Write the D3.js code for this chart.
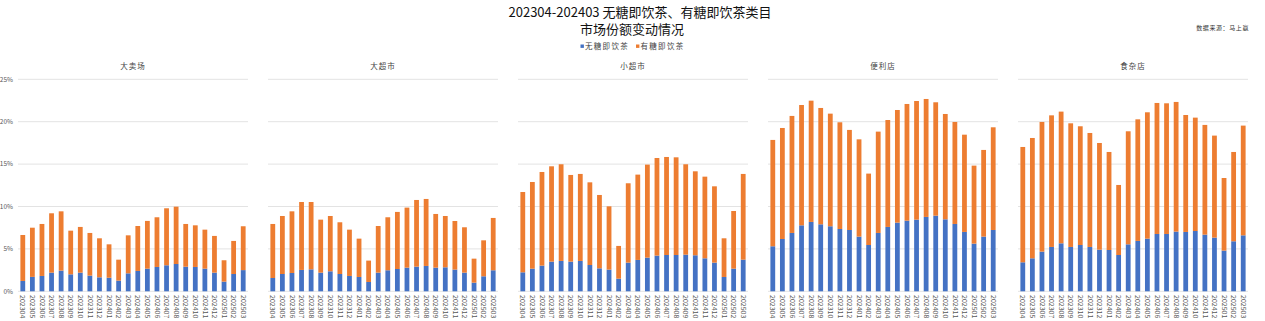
<!DOCTYPE html>
<html><head><meta charset="utf-8">
<script src="https://cdn.jsdelivr.net/npm/d3@7"></script>
<style>
body{margin:0;background:#fff;}
svg{display:block;font-family:"Noto Sans CJK SC","Noto Sans",sans-serif;}
</style></head>
<body>
<svg id="chart" width="1265" height="321"></svg>
<script>
const months = ["202304","202305","202306","202307","202308","202309","202310","202311","202312","202401","202402","202403","202404","202405","202406","202407","202408","202409","202410","202411","202412","202501","202502","202503"];
const channels = ["大卖场","大超市","小超市","便利店","食杂店"];
const seriesNames = ["无糖即饮茶","有糖即饮茶"];
const yTicks = [0,5,10,15,20,25];

// 无糖即饮茶 share (%)
const sugarFree_大卖场 = [1.22,1.70,1.81,2.20,2.44,2.00,2.20,1.85,1.65,1.60,1.26,2.12,2.40,2.67,2.87,3.07,3.22,2.90,2.87,2.67,2.20,1.14,2.04,2.50];
const sugarFree_大超市 = [1.57,2.04,2.16,2.52,2.59,2.20,2.36,2.04,1.81,1.69,1.10,2.20,2.48,2.63,2.79,2.91,2.99,2.79,2.83,2.56,2.20,1.02,1.77,2.48];
const sugarFree_小超市 = [2.24,2.67,3.03,3.50,3.58,3.50,3.58,3.10,2.71,2.56,1.49,3.38,3.70,3.97,4.21,4.28,4.28,4.32,4.25,3.89,3.38,1.69,2.67,3.73];
const sugarFree_便利店 = [5.31,6.17,6.88,7.78,8.18,7.90,7.67,7.35,7.23,6.45,5.46,6.88,7.59,8.10,8.33,8.45,8.77,8.92,8.49,7.94,7.00,5.62,6.45,7.23];
const sugarFree_食杂店 = [3.42,3.89,4.68,5.23,5.66,5.23,5.46,5.23,4.91,4.87,4.28,5.54,5.94,6.21,6.76,6.76,7.04,7.00,7.11,6.68,6.33,4.80,5.90,6.60];

// 有糖即饮茶 share (%)
const sugared_大卖场 = [5.42,5.80,6.13,7.00,6.99,5.15,5.39,5.03,4.60,3.94,2.47,4.48,5.30,5.63,5.86,6.72,6.76,5.04,4.91,4.60,4.33,2.52,3.90,5.17];
const sugared_大超市 = [6.37,6.84,7.27,8.01,7.94,6.25,6.52,6.10,5.46,4.52,2.52,5.50,6.25,6.73,7.08,7.86,7.90,6.33,6.05,5.73,5.35,2.83,4.24,6.17];
const sugared_小超市 = [9.47,10.22,11.04,11.24,11.40,10.22,10.26,9.75,8.65,7.46,3.86,9.36,10.06,10.97,11.51,11.56,11.52,10.66,9.90,9.63,9.00,4.56,6.80,10.11];
const sugared_便利店 = [12.54,13.09,13.80,14.19,14.30,13.72,13.28,12.58,11.80,11.47,8.42,11.95,12.61,13.28,13.76,13.99,13.91,13.37,12.42,12.03,11.47,9.20,10.22,12.11];
const sugared_食杂店 = [13.60,14.19,15.29,15.52,15.53,14.58,14.00,13.44,12.58,11.56,8.26,13.33,14.34,14.90,15.45,15.41,15.29,13.79,13.37,12.94,12.03,8.56,10.53,12.94];

const sugarFree = [sugarFree_大卖场,sugarFree_大超市,sugarFree_小超市,sugarFree_便利店,sugarFree_食杂店];
const sugared = [sugared_大卖场,sugared_大超市,sugared_小超市,sugared_便利店,sugared_食杂店];

const colors = ["#4472C4","#ED7D31"];
const svg = d3.select("#chart");

// Titles
svg.append("text").attr("x",640).attr("y",17).attr("text-anchor","middle")
  .attr("font-size",13).attr("fill","#111").text("202304-202403 无糖即饮茶、有糖即饮茶类目");
svg.append("text").attr("x",632).attr("y",34).attr("text-anchor","middle")
  .attr("font-size",13).attr("fill","#111").text("市场份额变动情况");
svg.append("text").attr("x",1249).attr("y",29.5).attr("text-anchor","end")
  .attr("font-size",6).attr("letter-spacing",0.6).attr("fill","#333").text("数据来源：马上赢");

// Legend
const lg = svg.append("g").attr("transform","translate(580.5,49)");
let lx = 0;
seriesNames.forEach((n,i)=>{
  lg.append("rect").attr("x",lx).attr("y",-4.5).attr("width",3.4).attr("height",3.4).attr("fill",colors[i]);
  const t = lg.append("text").attr("x",lx+4.5).attr("y",0).attr("font-size",7.5)
    .attr("letter-spacing",1.3).attr("fill","#444").text(n);
  lx += 4.5 + t.node().getComputedTextLength() + 7;
});

// Panel layout
const panel = d3.scaleBand().domain(channels).range([18,1248]).paddingInner(0.08);
const y = d3.scaleLinear().domain([0,25]).range([291.3,79.3]);

channels.forEach((ch,ci)=>{
  const g = svg.append("g").attr("transform",`translate(${panel(ch)},0)`);
  const w = panel.bandwidth();
  const x = d3.scaleBand().domain(months).range([0,w]).paddingInner(0.5).paddingOuter(0.25);

  g.append("text").attr("x",w/2).attr("y",69).attr("text-anchor","middle")
    .attr("font-size",7.5).attr("letter-spacing",1).attr("fill","#444").text(ch);

  g.selectAll("line.grid").data(yTicks).join("line").attr("class","grid")
    .attr("x1",0).attr("x2",w).attr("y1",d=>y(d)).attr("y2",d=>y(d))
    .attr("stroke","#e3e3e3").attr("stroke-width",1);

  if(ci===0){
    g.selectAll("text.yt").data(yTicks).join("text").attr("class","yt")
      .attr("x",-5).attr("y",d=>y(d)+2.3).attr("text-anchor","end")
      .attr("font-size",6.5).attr("fill","#595959").text(d=>d+"%");
  }

  const rows = months.map((m,i)=>({month:m, "无糖即饮茶":sugarFree[ci][i], "有糖即饮茶":sugared[ci][i]}));
  const stacked = d3.stack().keys(seriesNames)(rows);
  stacked.forEach((s,si)=>{
    g.append("g").selectAll("rect").data(s).join("rect")
      .attr("x",d=>x(d.data.month)).attr("width",x.bandwidth())
      .attr("y",d=>y(d[1])).attr("height",d=>y(d[0])-y(d[1]))
      .attr("fill",colors[si]);
  });

  g.selectAll("text.xt").data(months).join("text").attr("class","xt")
    .attr("transform",d=>`translate(${x(d)+x.bandwidth()/2-2.3},295) rotate(90)`)
    .attr("font-size",7).attr("fill","#595959").text(d=>d);
});
</script>
</body></html>
